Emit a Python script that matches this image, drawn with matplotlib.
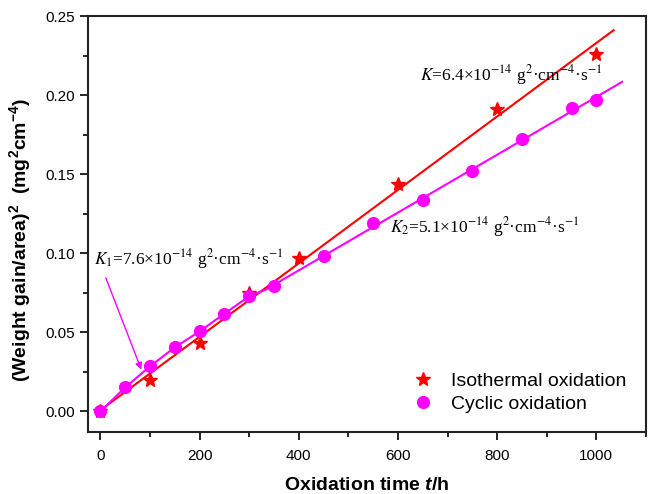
import numpy as np
import matplotlib
matplotlib.use("Agg")
import matplotlib.pyplot as plt
from matplotlib.ticker import MultipleLocator, FormatStrFormatter

# Isothermal oxidation (stars)
iso_t = [0, 100, 200, 300, 400, 600, 800, 1000]
iso_w2 = [0.0, 0.020, 0.0433, 0.0749, 0.0971, 0.1435, 0.191, 0.2258]

# Cyclic oxidation (circles)
cyc_t = [0, 50, 100, 150, 200, 250, 300, 350, 450, 550, 650, 750, 850, 950, 1000]
cyc_w2 = [0.0, 0.0152, 0.0285, 0.0405, 0.0506, 0.0618, 0.0728, 0.0791,
          0.0985, 0.1192, 0.1335, 0.1519, 0.172, 0.192, 0.197]

legend_labels = ["Isothermal oxidation", "Cyclic oxidation"]
k_iso = r"$K$=6.4×10$^{-14}$ g$^{2}$·cm$^{-4}$·s$^{-1}$"
k1_cyc = r"$K_1$=7.6×10$^{-14}$ g$^{2}$·cm$^{-4}$·s$^{-1}$"
k2_cyc = r"$K_2$=5.1×10$^{-14}$ g$^{2}$·cm$^{-4}$·s$^{-1}$"

plt.rcParams['font.family'] = ['Liberation Sans', 'DejaVu Sans']
plt.rcParams['mathtext.fontset'] = 'custom'
plt.rcParams['mathtext.rm'] = 'Liberation Sans:bold'
plt.rcParams['mathtext.it'] = 'Liberation Sans:bold:italic'
plt.rcParams['mathtext.bf'] = 'Liberation Sans:bold'

RED = '#ff0000'
MAG = '#ff00ff'

fig = plt.figure(figsize=(6.48, 4.94), dpi=100)
ax = fig.add_axes([0.1358, 0.1255, 0.8610, 0.842])

iso_t_a = np.array(iso_t)
iso_w_a = np.array(iso_w2)
cyc_t_a = np.array(cyc_t)
cyc_w_a = np.array(cyc_w2)

# linear fit for the isothermal data
p_iso = np.polyfit(iso_t_a, iso_w_a, 1)
x_iso = np.array([0, 1035])
ax.plot(x_iso, np.polyval(p_iso, x_iso), color=RED, lw=1.5, zorder=2)

# cyclic: early stage follows the points, later stage is a linear fit
early = cyc_t_a <= 350
ax.plot(cyc_t_a[early], cyc_w_a[early], color=MAG, lw=1.5, zorder=2)
late = cyc_t_a >= 350
p_cyc = np.polyfit(cyc_t_a[late], cyc_w_a[late], 1)
x_cyc = np.array([350, 1052])
ax.plot(x_cyc, np.polyval(p_cyc, x_cyc), color=MAG, lw=1.5, zorder=2)

ax.plot(iso_t, iso_w2, linestyle='none', marker='*', ms=10, color=RED,
        mec=RED, label=legend_labels[0], zorder=3)
ax.plot(cyc_t, cyc_w2, linestyle='none', marker='o', ms=8.5, color=MAG,
        mec=MAG, label=legend_labels[1], zorder=3)

# rate constant annotations
txt_kw = dict(fontsize=12.5, family='Liberation Serif', math_fontfamily='stix',
              va='baseline', ha='left')
ax.text(645, 0.2095, k_iso, **txt_kw)
ax.text(584, 0.1130, k2_cyc, **txt_kw)
ax.text(-13, 0.0929, k1_cyc, **txt_kw)
ax.annotate('', xy=(82.6, 0.0264), xytext=(11, 0.0844),
            arrowprops=dict(arrowstyle='-|>', color=MAG, lw=1.0,
                            mutation_scale=10, shrinkA=0, shrinkB=0))

ax.set_xlim(-25, 1100)
ax.set_ylim(-0.013, 0.25)
ax.xaxis.set_major_locator(MultipleLocator(200))
ax.xaxis.set_minor_locator(MultipleLocator(100))
ax.yaxis.set_major_locator(MultipleLocator(0.05))
ax.yaxis.set_minor_locator(MultipleLocator(0.025))
ax.yaxis.set_major_formatter(FormatStrFormatter('%.2f'))
ax.tick_params(which='major', direction='out', length=6, width=1.2,
               labelsize=11, top=False, right=False)
ax.tick_params(axis='x', which='major', pad=6)
ax.tick_params(which='minor', direction='out', length=3.5, width=1.2,
               top=False, right=False)
for s in ax.spines.values():
    s.set_linewidth(1.5)
    s.set_color('#222222')

ax.set_xlabel(r"Oxidation time $t$/h", fontsize=14, fontweight='bold',
              labelpad=10)
ax.set_ylabel(r"(Weight gain/area)$^{2}$  (mg$^{2}$cm$^{-4}$)", fontsize=14,
              fontweight='bold')
ax.yaxis.set_label_coords(-0.098, 0.4615)

ax.legend(loc='lower right', frameon=False, fontsize=14, handlelength=1.0,
          handletextpad=0.95, borderpad=0, borderaxespad=0,
          bbox_to_anchor=(0.965, 0.045), labelspacing=0.3)

fig.savefig('out.png', dpi=100)
